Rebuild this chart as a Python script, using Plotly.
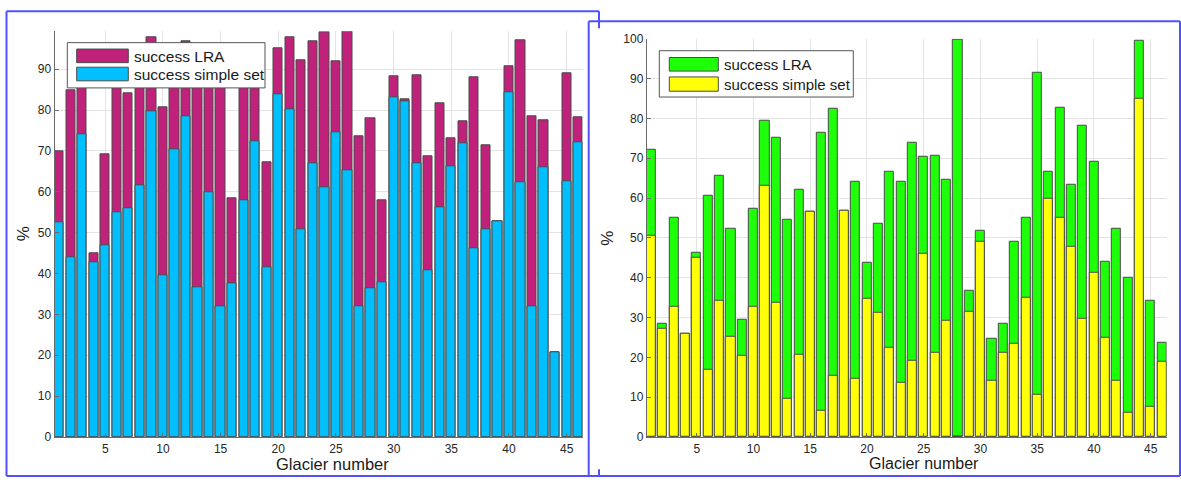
import plotly.graph_objects as go

W, H = 1181, 487

glaciers = list(range(1, 47))

# Left panel
left_simple = [52.6, 43.9, 74.1, 42.7, 46.9, 54.9, 56.0, 61.7, 79.7, 39.7,
               70.4, 78.5, 36.7, 60.0, 32.1, 37.7, 58.0, 72.3, 41.5, 84.0,
               80.2, 50.8, 66.9, 61.2, 74.5, 65.3, 31.9, 36.3, 37.8, 83.1,
               82.1, 66.9, 40.7, 56.3, 66.2, 72.0, 46.2, 50.9, 52.7, 84.4,
               62.3, 32.0, 66.0, 20.7, 62.6, 72.1]
left_lra = [70.0, 84.9, 88.0, 45.0, 69.3, 91.0, 84.1, 93.0, 97.9, 80.6,
            90.0, 96.8, 94.0, 92.0, 91.0, 58.4, 93.0, 90.0, 67.3, 95.2,
            97.9, 92.3, 96.8, 99.0, 91.9, 99.2, 73.6, 78.1, 57.9, 88.4,
            82.6, 88.5, 68.6, 81.8, 73.0, 77.2, 88.1, 71.5, 52.7, 90.7,
            97.1, 78.6, 77.4, 20.7, 89.1, 78.3]

# Right panel
right_simple = [50.6, 27.2, 32.8, 25.9, 44.9, 16.9, 34.2, 25.2, 20.5, 32.8,
                63.2, 33.7, 9.7, 20.6, 56.6, 6.7, 15.3, 56.9, 14.7, 34.6,
                31.1, 22.4, 13.7, 19.1, 46.1, 21.2, 29.3, 0.0, 31.5, 49.1,
                14.2, 21.1, 23.3, 35.0, 10.7, 59.7, 55.1, 47.7, 29.8, 41.3,
                25.0, 14.2, 6.2, 84.9, 7.7, 19.0]
right_lra = [72.2, 28.4, 55.0, 25.9, 46.3, 60.7, 65.7, 52.3, 29.5, 57.4,
             79.5, 75.2, 54.6, 62.0, 56.6, 76.3, 82.5, 56.9, 64.2, 43.8,
             53.5, 66.5, 64.2, 74.0, 70.4, 70.5, 64.5, 99.8, 36.6, 51.8,
             24.6, 28.4, 48.9, 55.0, 91.5, 66.7, 82.7, 63.3, 78.1, 69.0,
             43.9, 52.2, 40.1, 99.4, 34.1, 23.7]

legend_labels = ["success LRA", "success simple set"]
x_title = "Glacier number"
y_title = "%"

MAGENTA = "#c0217b"
CYAN = "#00bfff"
GREEN = "#1eff0a"
YELLOW = "#ffff0a"
EDGE = "#4a4a4a"
FRAME = "#5050ff"
FONT = "Liberation Sans, Arial, sans-serif"


def X(px):
    return px / W


def Y(py):
    return 1 - py / H


fig = go.Figure()

def add_bars(vals, color, xa, ya, name):
    fig.add_trace(go.Bar(x=glaciers, y=vals, width=0.8, name=name,
                         marker=dict(color=color, line=dict(color=EDGE, width=1)),
                         xaxis=xa, yaxis=ya, showlegend=False))

add_bars(left_lra, MAGENTA, "x", "y", legend_labels[0])
add_bars(left_simple, CYAN, "x", "y", legend_labels[1])
add_bars(right_lra, GREEN, "x2", "y2", legend_labels[0])
add_bars(right_simple, YELLOW, "x2", "y2", legend_labels[1])

axis_common = dict(showgrid=True, gridcolor="#e4e4e4", gridwidth=1,
                   showline=True, linecolor="#6a6a6a", linewidth=1,
                   ticks="inside", ticklen=4, tickcolor="#6a6a6a",
                   zeroline=False,
                   tickfont=dict(family=FONT, size=12, color="#262626"))

fig.update_layout(
    width=W, height=H,
    margin=dict(l=0, r=0, t=0, b=0),
    paper_bgcolor="white", plot_bgcolor="white",
    barmode="overlay", bargap=0,
    showlegend=False,
    xaxis=dict(domain=[X(54.5), X(582.8)], range=[0.6, 46.4], dtick=5, tick0=0,
               anchor="y", ticklabelstandoff=1, **axis_common),
    yaxis=dict(domain=[Y(442.7), Y(25)], range=[0, 99.3], dtick=10, tick0=0,
               anchor="x", **axis_common),
    xaxis2=dict(domain=[X(646.8), X(1166.6)], range=[0.6, 46.4], dtick=5, tick0=0,
                anchor="y2", ticklabelstandoff=1, **axis_common),
    yaxis2=dict(domain=[Y(442.7), Y(32.7)], range=[0, 100], dtick=10, tick0=0,
                anchor="x2", **axis_common),
)

shapes = []
annotations = []

def line(x0, y0, x1, y1, color=FRAME, width=2):
    shapes.append(dict(type="line", xref="paper", yref="paper",
                       x0=X(x0), y0=Y(y0), x1=X(x1), y1=Y(y1),
                       line=dict(color=color, width=width), layer="above"))

def rect(x0, y0, x1, y1, fill, lc=EDGE, lw=1):
    shapes.append(dict(type="rect", xref="paper", yref="paper",
                       x0=X(x0), y0=Y(y0), x1=X(x1), y1=Y(y1),
                       fillcolor=fill, line=dict(color=lc, width=lw), layer="above"))

def text(x, y, s, size, xanchor="left", angle=0):
    annotations.append(dict(xref="paper", yref="paper", x=X(x), y=Y(y), text=s,
                            showarrow=False, xanchor=xanchor, yanchor="middle",
                            textangle=angle, borderpad=0,
                            font=dict(family=FONT, size=size, color="#1a1a1a")))

# frames
line(6.5, 4.5, 599, 4.5)
line(6.5, 4.5, 6.5, 483)
line(6.5, 483, 1180, 483)
line(599, 4.5, 599, 22)
line(599, 476, 599, 483)
line(588.7, 14.7, 1180, 14.7)
line(588.7, 14.7, 588.7, 483)
line(1180, 14.7, 1180, 483)

# left legend
rect(67.3, 36.7, 265, 83.3, "white", "#555555", 1)
rect(76.7, 43.3, 128.3, 57.3, MAGENTA)
rect(76.7, 62, 128.3, 76, CYAN)
text(132.5, 50.5, legend_labels[0], 15.5)
text(132.5, 69, legend_labels[1], 15.5)

# right legend
rect(659.3, 45, 853.3, 92.7, "white", "#555555", 1)
rect(669.3, 52, 718.3, 66, GREEN)
rect(669.3, 72, 718.3, 86.7, YELLOW)
text(723, 59.3, legend_labels[0], 15)
text(723, 79.5, legend_labels[1], 15)

# axis titles
text(332.4, 470.5, x_title, 16.5, xanchor="center")
text(924, 470.5, x_title, 16, xanchor="center")
text(23, 234, y_title, 17, xanchor="center", angle=-90)
text(606.7, 238, y_title, 17, xanchor="center", angle=-90)

fig.update_layout(shapes=shapes, annotations=annotations)

post = (
    "document.documentElement.style.margin='0';"
    "document.documentElement.style.padding='0';"
    "document.documentElement.style.overflow='hidden';"
    "document.body.style.margin='0';"
    "document.body.style.padding='0';"
    "document.body.style.overflow='hidden';"
    "var gd=document.getElementById('{plot_id}');"
    "gd.style.position='fixed';gd.style.left='0px';gd.style.top='0px';"
)

fig.write_html("out.html", config={"displayModeBar": False}, post_script=post)
